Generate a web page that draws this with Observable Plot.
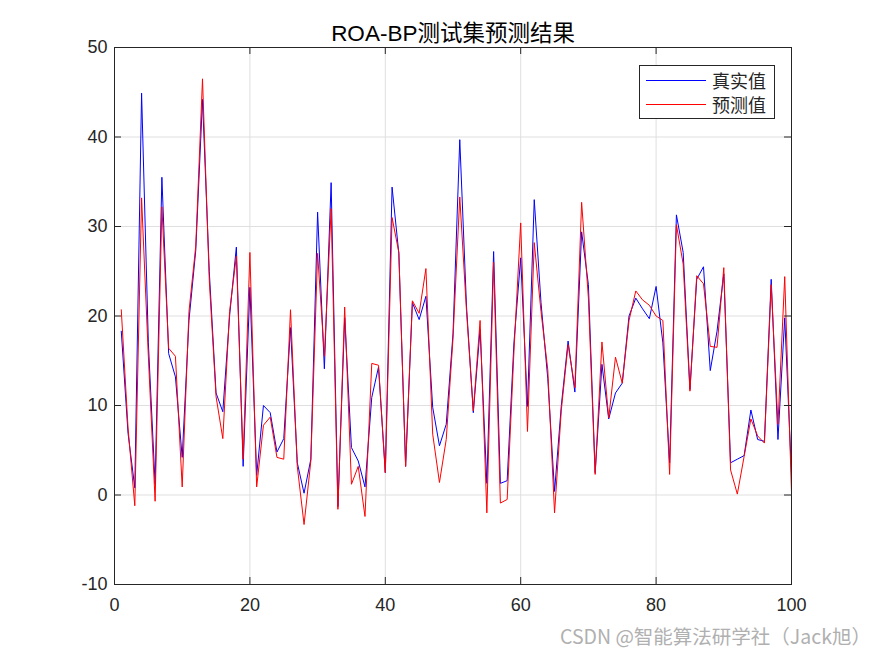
<!DOCTYPE html>
<html>
<head>
<meta charset="utf-8">
<script src="https://cdn.jsdelivr.net/npm/d3@7"></script>
<script src="https://cdn.jsdelivr.net/npm/@observablehq/plot@0.6"></script>
<style>
  html, body { margin: 0; padding: 0; background: #fff; }
  #wrap { position: relative; width: 875px; height: 656px; overflow: hidden; }
  #legend { position: absolute; left: 639px; top: 65px; width: 136px; height: 54px;
    border: 1px solid #262626; background: #fff; box-sizing: border-box;
    font-family: "Noto Sans CJK SC", sans-serif; font-size: 18px; line-height: 22px; color: #262626; }
  .lg { position: absolute; left: 6px; height: 22px; line-height: 22px; display: flex; align-items: center; }
  .lg span.ln { display: inline-block; width: 60px; height: 0; border-top: 1px solid; margin-right: 6px; }
  #wm { position: absolute; left: 560px; top: 623px; font-family: "Noto Sans CJK SC", sans-serif;
    font-size: 19.5px; line-height: 26px; color: #b0b0b0; white-space: nowrap; }
</style>
</head>
<body>
<div id="wrap"></div>
<script>
const titleText = "ROA-BP测试集预测结果";
const seriesNames = ["真实值", "预测值"];
const seriesColors = ["#0000ff", "#ff0000"];
const xTicks = [0, 20, 40, 60, 80, 100];
const yTicks = [-10, 0, 10, 20, 30, 40, 50];
const sampleIndex = d3.range(1, 101);
const trueValues = [
 18.3, 6.9, 0.8, 44.9, 17, 1.2, 35.5, 15.8, 13.2, 4.2,
 19.5, 27.3, 44.2, 25, 11.4, 9.3, 20, 27.7, 3.2, 23.2,
 2.2, 10, 9.2, 4.8, 6.3, 18.7, 3.6, 0.2, 4, 31.6,
 14.1, 34.9, -1.3, 19.8, 5.3, 3.8, 0.9, 10.9, 14.3, 2.5,
 34.4, 27, 3.2, 21.5, 19.6, 22.2, 9.8, 5.5, 7.9, 18,
 39.7, 21, 9.2, 18.5, 1.3, 27.2, 1.3, 1.6, 17, 26.5,
 9.9, 33, 21.5, 13, 0.4, 10, 17.2, 11.5, 29.4, 23.5,
 2.5, 14.6, 8.5, 11.4, 12.5, 20, 22, 20.8, 19.7, 23.3,
 17, 3.6, 31.3, 27.1, 11.8, 24.1, 25.5, 13.9, 18.3, 24.7,
 3.6, 4, 4.4, 9.5, 6.2, 6, 24.1, 6.2, 19.8, 2.3
];
const predValues = [
 20.7, 7.5, -1.2, 33.2, 15.5, -0.7, 32.2, 16.4, 15.5, 0.9,
 20.5, 27.8, 46.5, 24, 11, 6.3, 20.5, 26.7, 4, 27.1,
 0.9, 7.8, 8.7, 4.2, 4, 20.7, 3.2, -3.3, 3.8, 27,
 15.5, 32, -1.6, 21, 1.2, 3.2, -2.4, 14.7, 14.5, 2.5,
 31, 27.1, 3.2, 21.7, 20.3, 25.3, 6.8, 1.4, 6.2, 17.5,
 33.3, 20.5, 9.4, 19.5, -2, 26, -0.9, -0.5, 16, 30.4,
 7.1, 28.2, 20.5, 14, -2, 9.5, 16.8, 12, 32.7, 22,
 2.3, 17.1, 8.6, 15.4, 12.5, 19.5, 22.8, 21.8, 21.2, 20,
 19.5, 2.3, 30.2, 25.8, 11.6, 24.5, 23.6, 16.6, 16.5, 25.4,
 2.8, 0.1, 4.3, 8.5, 6.6, 5.8, 23.5, 7.9, 24.4, 0.3
];

const W = 875, H = 656;
const mL = 114, mR = 84, mT = 47, mB = 72;
const pw = W - mL - mR, ph = H - mT - mB;
const tickLen = 7;

const trueData = sampleIndex.map((x, i) => ({x, y: trueValues[i]}));
const predData = sampleIndex.map((x, i) => ({x, y: predValues[i]}));

const chart = Plot.plot({
  width: W, height: H,
  marginLeft: mL, marginRight: mR, marginTop: mT, marginBottom: mB,
  style: {fontFamily: "'Liberation Sans', Arial, sans-serif", fontSize: "17px", color: "#262626", background: "#fff"},
  x: {domain: [0, 100], ticks: xTicks},
  y: {domain: [-10, 50], ticks: yTicks},
  marks: [
    Plot.gridX(xTicks, {stroke: "#dfdfdf", strokeOpacity: 1}),
    Plot.gridY(yTicks, {stroke: "#dfdfdf", strokeOpacity: 1}),
    Plot.line(trueData, {x: "x", y: "y", stroke: seriesColors[0], strokeWidth: 1}),
    Plot.line(predData, {x: "x", y: "y", stroke: seriesColors[1], strokeWidth: 1}),
    Plot.tickX(xTicks, {x: d => d, stroke: "#262626", insetTop: ph - tickLen}),
    Plot.tickX(xTicks, {x: d => d, stroke: "#262626", insetBottom: ph - tickLen}),
    Plot.tickY(yTicks, {y: d => d, stroke: "#262626", insetRight: pw - tickLen}),
    Plot.tickY(yTicks, {y: d => d, stroke: "#262626", insetLeft: pw - tickLen}),
    Plot.frame({stroke: "#262626", strokeWidth: 1}),
    Plot.axisX(xTicks, {tickSize: 0, tickPadding: 14, tickFormat: d => String(d), fontSize: 18, fill: "#262626", label: null}),
    Plot.axisY(yTicks, {tickSize: 0, tickPadding: 7, tickFormat: d => String(d), fontSize: 18, fill: "#262626", label: null}),
    Plot.text([titleText], {text: d => d, frameAnchor: "top", lineAnchor: "middle", dy: -14, fontSize: 22.5,
      fontFamily: "'Liberation Sans', 'Noto Sans CJK SC', sans-serif", fill: "#000"})
  ]
});

const wrap = document.getElementById("wrap");
wrap.appendChild(chart);

const lg = document.createElement("div");
lg.id = "legend";
seriesNames.forEach((name, i) => {
  const row = document.createElement("div");
  row.className = "lg";
  row.style.top = (3 + i * 24) + "px";
  const ln = document.createElement("span");
  ln.className = "ln";
  ln.style.borderTopColor = seriesColors[i];
  row.appendChild(ln);
  const t = document.createElement("span");
  t.textContent = name;
  row.appendChild(t);
  lg.appendChild(row);
});
wrap.appendChild(lg);

const wm = document.createElement("div");
wm.id = "wm";
wm.textContent = "CSDN @智能算法研学社（Jack旭）";
wrap.appendChild(wm);
</script>
</body>
</html>
